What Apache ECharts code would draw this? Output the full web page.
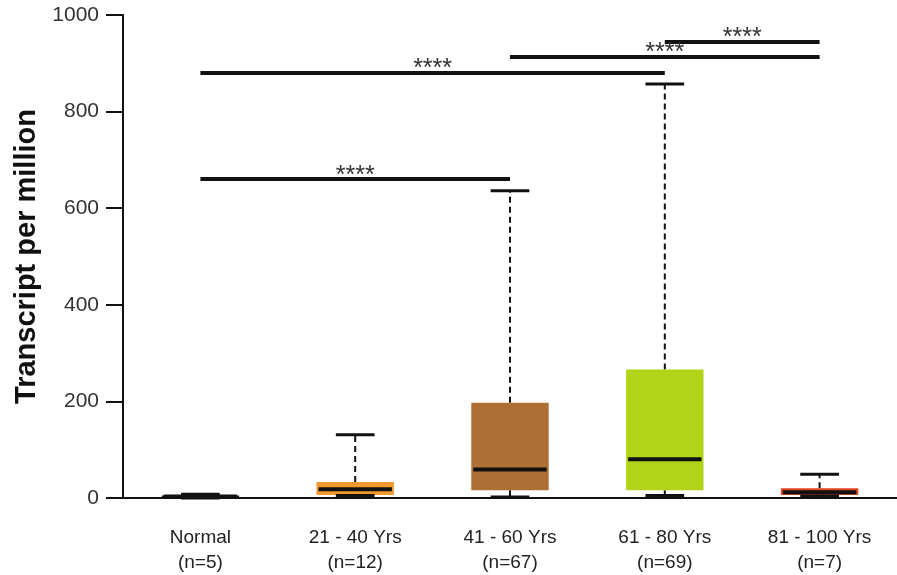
<!DOCTYPE html>
<html><head><meta charset="utf-8">
<script src="https://cdn.jsdelivr.net/npm/echarts@6/dist/echarts.min.js"></script>
<style>html,body{margin:0;padding:0;background:#fff}#c{width:897px;height:575px}</style>
</head><body><div id="c"></div>
<script>
const categories = ['Normal\n(n=5)', '21 - 40 Yrs\n(n=12)', '41 - 60 Yrs\n(n=67)', '61 - 80 Yrs\n(n=69)', '81 - 100 Yrs\n(n=7)'];
const mins    = [0, 5, 2, 5, 4];
const q1s     = [1, 6, 16, 16, 6];
const medians = [3, 18, 59, 80, 12];
const q3s     = [5, 33, 197, 266, 20];
const maxs    = [8, 131, 636, 857, 49];
const boxColors = ['#1a1a1a', '#F29A2E', '#AE6F35', '#B2D418', '#E2451E'];
const yTicks = [0, 200, 400, 600, 800, 1000];
const sigFrom = [0, 0, 2, 3];
const sigTo   = [2, 3, 4, 4];
const sigY    = [660, 880, 913, 944];
const sigText = ['****', '****', '****', '****'];

const boxData = categories.map((c, i) => [i, mins[i], q1s[i], medians[i], q3s[i], maxs[i]]);
const FF = 'Liberation Sans, Arial, sans-serif';

const chart = echarts.init(document.getElementById('c'));
chart.setOption({
  backgroundColor: '#fff',
  animation: false,
  grid: { left: 123, right: -3, top: 15, bottom: 70 },
  xAxis: {
    type: 'category', data: categories,
    axisLine: { lineStyle: { color: '#111', width: 2 } },
    axisTick: { show: false },
    axisLabel: { color: '#222', fontSize: 19, lineHeight: 25, margin: 27, fontFamily: FF }
  },
  yAxis: {
    type: 'value', min: yTicks[0], max: yTicks[yTicks.length - 1], interval: 200,
    splitLine: { show: false },
    axisLine: { show: true, lineStyle: { color: '#111', width: 2 } },
    axisTick: { show: true, length: 17, lineStyle: { color: '#111', width: 2 } },
    axisLabel: { color: '#333', fontSize: 21, margin: 24, fontFamily: FF, formatter: v => String(v) },
    name: 'Transcript per million', nameLocation: 'middle', nameGap: 75, nameRotate: 90,
    nameTextStyle: { color: '#111', fontSize: 29, fontWeight: 'bold', fontFamily: FF }
  },
  series: [{
    type: 'custom',
    data: boxData,
    encode: { x: 0, y: [1, 2, 3, 4, 5] },
    renderItem: function (params, api) {
      const i = api.value(0);
      const x = api.coord([i, 0])[0];
      const band = api.size([1, 0])[0];
      const bw = band * 0.5, cw = band * 0.25;
      const yMin = api.coord([i, api.value(1)])[1];
      const yQ1 = api.coord([i, api.value(2)])[1];
      const yMed = api.coord([i, api.value(3)])[1];
      const yQ3 = api.coord([i, api.value(4)])[1];
      const yMax = api.coord([i, api.value(5)])[1];
      const blk = '#111';
      return {
        type: 'group',
        children: [
          { type: 'line', shape: { x1: x, y1: yQ3, x2: x, y2: yMax }, style: { stroke: blk, lineWidth: 2, lineDash: [6, 4] } },
          { type: 'line', shape: { x1: x, y1: yQ1, x2: x, y2: yMin }, style: { stroke: blk, lineWidth: 2 } },
          { type: 'rect', shape: { x: x - bw / 2, y: yQ3, width: bw, height: Math.max(yQ1 - yQ3, 2) }, style: { fill: boxColors[i] } },
          { type: 'line', shape: { x1: x - cw / 2, y1: yMax, x2: x + cw / 2, y2: yMax }, style: { stroke: blk, lineWidth: 3 } },
          { type: 'line', shape: { x1: x - cw / 2, y1: yMin, x2: x + cw / 2, y2: yMin }, style: { stroke: blk, lineWidth: 3 } },
          { type: 'line', shape: { x1: x - bw / 2 + 2, y1: yMed, x2: x + bw / 2 - 2, y2: yMed }, style: { stroke: blk, lineWidth: 4 } }
        ]
      };
    },
    markLine: {
      silent: true, symbol: 'none',
      lineStyle: { color: '#111', width: 4, type: 'solid' },
      label: { show: true, position: 'middle', color: '#333', fontSize: 25, distance: -9, fontFamily: FF },
      data: sigFrom.map((f, k) => [
        { coord: [f, sigY[k]], label: { formatter: sigText[k] } },
        { coord: [sigTo[k], sigY[k]] }
      ])
    }
  }]
});
</script></body></html>
